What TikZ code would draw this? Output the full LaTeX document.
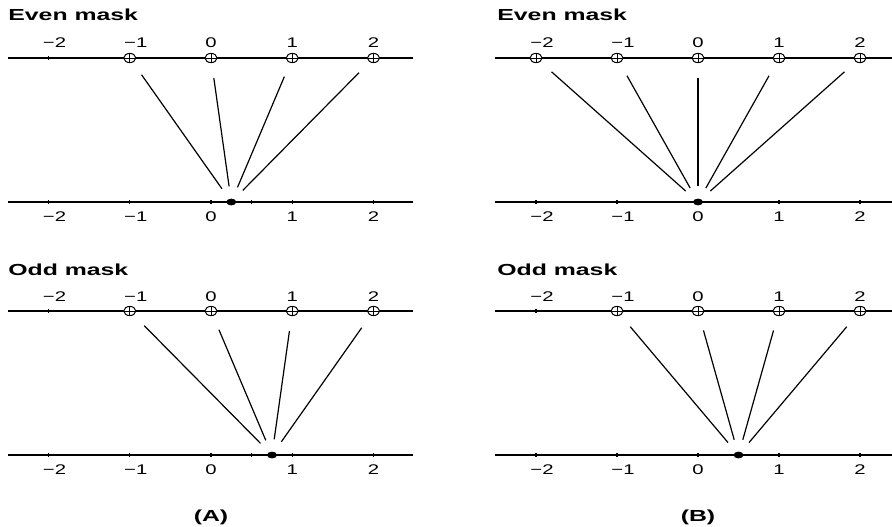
\documentclass[tikz,border=0pt]{standalone}
\usepackage{fontspec}
\setmainfont{Liberation Sans}
\usepackage{graphicx}
\usetikzlibrary{shapes.geometric}
\newcommand{\MaskTitle}[1]{\scalebox{1.55}[1]{\bfseries\fontsize{8}{9}\selectfont #1}}
\newcommand{\TickNum}[1]{\scalebox{1.45}[1]{\fontsize{7}{8}\selectfont #1}}
\tikzset{
  tapmark/.style={ellipse,draw,fill=white,line width=0.5pt,inner sep=0pt,
    minimum width=6pt,minimum height=4.6pt,
    path picture={\draw[line width=0.4pt] (path picture bounding box.north) -- (path picture bounding box.south)
      (path picture bounding box.west) -- (path picture bounding box.east);}},
  outdot/.style={ellipse,fill=black,inner sep=0pt,minimum width=5pt,minimum height=3.4pt},
  weightline/.style={line width=0.6pt,shorten <=7.5pt,shorten >=6pt},
  axisline/.style={line width=0.6pt},
  ticklab/.style={inner sep=0pt,anchor=center},
  titlelab/.style={inner sep=0pt,anchor=west}
}

\begin{document}
\begin{tikzpicture}[x=0.5pt,y=-0.5pt]
\useasboundingbox (0,0) rectangle (892,526);

% (A) even mask
\node[titlelab] (titleAe) at (8,15) {\MaskTitle{Even mask}};
\draw[axisline] (8,58) -- (413,58);
\draw[axisline] (8,202) -- (413,202);
\foreach \v/\t/\s in {-2/−2/6,-1/−1/6,0/0/0,1/1/0,2/2/0} {
  \draw[axisline] ({211+81.25*\v},56) -- ({211+81.25*\v},60);
  \draw[axisline] ({211+81.25*\v},200) -- ({211+81.25*\v},204);
  \node[ticklab] (Aeu\v) at ({211+81.25*\v+\s},43) {\TickNum{\t}};
  \node[ticklab] (Aeb\v) at ({211+81.25*\v+\s},216.5) {\TickNum{\t}};
}
\draw[axisline] (251.6,200) -- (251.6,204);
\foreach \v in {-1,...,2}
  \node[tapmark] (Aec\v) at ({211+81.25*\v},58) {};
\node[outdot] (Aed) at (231.3,202) {};
\foreach \v in {-1,...,2}
  \draw[weightline] (Aec\v) -- (Aed);

% (A) odd mask
\node[titlelab] (titleAo) at (8,270) {\MaskTitle{Odd mask}};
\draw[axisline] (8,311) -- (413,311);
\draw[axisline] (8,455) -- (413,455);
\foreach \v/\t/\s in {-2/−2/6,-1/−1/6,0/0/0,1/1/0,2/2/0} {
  \draw[axisline] ({211+81.25*\v},309) -- ({211+81.25*\v},313);
  \draw[axisline] ({211+81.25*\v},453) -- ({211+81.25*\v},457);
  \node[ticklab] (Aou\v) at ({211+81.25*\v+\s},297) {\TickNum{\t}};
  \node[ticklab] (Aob\v) at ({211+81.25*\v+\s},469.5) {\TickNum{\t}};
}
\draw[axisline] (251.6,453) -- (251.6,457);
\foreach \v in {-1,...,2}
  \node[tapmark] (Aoc\v) at ({211+81.25*\v},311) {};
\node[outdot] (Aod) at (272,455) {};
\foreach \v in {-1,...,2}
  \draw[weightline] (Aoc\v) -- (Aod);

% (B) even mask
\node[titlelab] (titleBe) at (497,15) {\MaskTitle{Even mask}};
\draw[axisline] (495,58) -- (892,58);
\draw[axisline] (495,202) -- (892,202);
\foreach \v/\t/\s in {-2/−2/6,-1/−1/6,0/0/0,1/1/0,2/2/0} {
  \draw[axisline] ({698+81*\v},56) -- ({698+81*\v},60);
  \draw[axisline] ({698+81*\v},200) -- ({698+81*\v},204);
  \node[ticklab] (Beu\v) at ({698+81*\v+\s},43) {\TickNum{\t}};
  \node[ticklab] (Beb\v) at ({698+81*\v+\s},216.5) {\TickNum{\t}};
}
\foreach \v in {-2,...,2}
  \node[tapmark] (Bec\v) at ({698+81*\v},58) {};
\node[outdot] (Bed) at (698,202) {};
\foreach \v in {-2,...,2}
  \draw[weightline] (Bec\v) -- (Bed);

% (B) odd mask
\node[titlelab] (titleBo) at (497,270) {\MaskTitle{Odd mask}};
\draw[axisline] (495,311) -- (892,311);
\draw[axisline] (495,455) -- (892,455);
\foreach \v/\t/\s in {-2/−2/6,-1/−1/6,0/0/0,1/1/0,2/2/0} {
  \draw[axisline] ({698+81*\v},309) -- ({698+81*\v},313);
  \draw[axisline] ({698+81*\v},453) -- ({698+81*\v},457);
  \node[ticklab] (Bou\v) at ({698+81*\v+\s},297) {\TickNum{\t}};
  \node[ticklab] (Bob\v) at ({698+81*\v+\s},469.5) {\TickNum{\t}};
}
\foreach \v in {-1,...,2}
  \node[tapmark] (Boc\v) at ({698+81*\v},311) {};
\node[outdot] (Bod) at (738.5,455) {};
\foreach \v in {-1,...,2}
  \draw[weightline] (Boc\v) -- (Bod);

% panel captions
\node[ticklab] (capA) at (211,517) {\MaskTitle{(A)}};
\node[ticklab] (capB) at (698,517) {\MaskTitle{(B)}};
\end{tikzpicture}
\end{document}
